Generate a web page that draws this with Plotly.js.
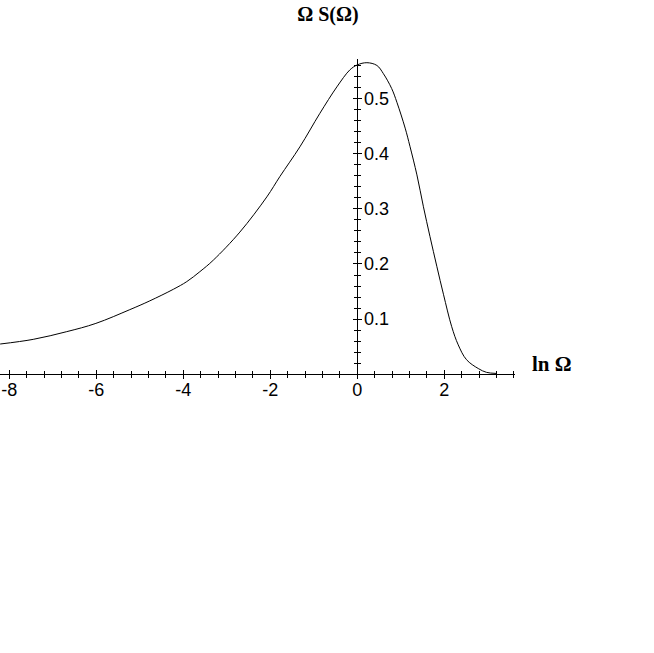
<!DOCTYPE html>
<html>
<head>
<meta charset="utf-8">
<script src="https://cdn.plot.ly/plotly-3.0.1.min.js"></script>
<style>html,body{margin:0;padding:0;background:#fff;}#chart{width:654px;height:653px;}</style>
</head>
<body>
<div id="chart"></div>
<script>
// ln Ω values and Ω S(Ω) values
const lnOmega = [-8.21, -7.45, -6.68, -6.01, -5.23, -4.77, -4.23, -3.92, -3.62, -3.31,
  -2.70, -2.08, -1.78, -1.32, -0.86, -0.47, -0.17, 0.00, 0.22, 0.45,
  0.60, 0.79, 0.91, 1.10, 1.21, 1.37, 1.52, 1.67, 1.83, 1.98,
  2.17, 2.32, 2.51, 2.78, 2.97, 3.20];
const omegaS = [0.0545, 0.063, 0.077, 0.092, 0.117, 0.133, 0.154, 0.168, 0.186, 0.207,
  0.258, 0.322, 0.359, 0.413, 0.474, 0.522, 0.553, 0.562, 0.566, 0.561,
  0.546, 0.519, 0.494, 0.447, 0.414, 0.362, 0.304, 0.250, 0.195, 0.145,
  0.086, 0.053, 0.026, 0.010, 0.003, 0.001];

const xTickVals = [-8, -6, -4, -2, 0, 2];
const xTickText = ["-8", "-6", "-4", "-2", "0", "2"];
const yTickVals = [0.1, 0.2, 0.3, 0.4, 0.5];
const yTickText = ["0.1", "0.2", "0.3", "0.4", "0.5"];

const xRange = [-8.214, 3.625];
const yRange = [0, 0.5727];
const yAxisPos = (0 - xRange[0]) / (xRange[1] - xRange[0]);

const tickFont = {family: "Liberation Sans, Arial, sans-serif", size: 18, color: "#000"};
const serif = "Liberation Serif, Times New Roman, serif";

const traces = [
  {x: lnOmega, y: omegaS, mode: "lines", line: {color: "#000", width: 1, shape: "spline", smoothing: 1},
   xaxis: "x", yaxis: "y", showlegend: false, hoverinfo: "skip"},
  {x: lnOmega, y: omegaS, mode: "lines", line: {color: "rgba(0,0,0,0)", width: 0},
   xaxis: "x2", yaxis: "y2", showlegend: false, hoverinfo: "skip"}
];

const axCommon = {showgrid: false, zeroline: false, showline: true, linecolor: "#000", linewidth: 1, tickcolor: "#000", tickwidth: 1, fixedrange: true};

const layout = {
  width: 654, height: 653,
  paper_bgcolor: "#fff", plot_bgcolor: "#fff",
  margin: {l: 0, r: 139, t: 59, b: 279},
  showlegend: false,
  title: {text: "<b>Ω S(Ω)</b>", font: {family: serif, size: 20, color: "#000"},
    xref: "container", x: 0.5015, xanchor: "center", yref: "container", y: 0.9786, yanchor: "middle"},
  xaxis: Object.assign({}, axCommon, {range: xRange, anchor: "y", side: "bottom",
    tickmode: "array", tickvals: xTickVals, ticktext: xTickText, ticks: "outside", ticklen: 4,
    tickfont: tickFont, ticklabelstandoff: -5,
    minor: {tickmode: "linear", tick0: 0, dtick: 0.4, ticks: "outside", ticklen: 3, tickcolor: "#000"}}),
  xaxis2: Object.assign({}, axCommon, {range: xRange, anchor: "y", side: "bottom", overlaying: "x",
    tickmode: "array", tickvals: xTickVals, ticks: "inside", ticklen: 4, showticklabels: false,
    minor: {tickmode: "linear", tick0: 0, dtick: 0.4, ticks: "inside", ticklen: 3, tickcolor: "#000"}}),
  yaxis: Object.assign({}, axCommon, {range: yRange, anchor: "free", position: yAxisPos, side: "right",
    tickmode: "array", tickvals: yTickVals, ticktext: yTickText, ticks: "outside", ticklen: 4,
    tickfont: tickFont, ticklabelstandoff: -2,
    minor: {tickmode: "linear", tick0: 0, dtick: 0.02, ticks: "outside", ticklen: 3, tickcolor: "#000"}}),
  yaxis2: Object.assign({}, axCommon, {range: yRange, anchor: "free", position: yAxisPos, side: "right", overlaying: "y",
    tickmode: "array", tickvals: yTickVals, ticks: "inside", ticklen: 4, showticklabels: false,
    minor: {tickmode: "linear", tick0: 0, dtick: 0.02, ticks: "inside", ticklen: 3, tickcolor: "#000"}}),
  annotations: [
    {text: "<b>ln Ω</b>", xref: "paper", yref: "paper", x: 1.072, y: 0.032, xanchor: "center", yanchor: "middle",
     showarrow: false, font: {family: serif, size: 21, color: "#000"}}
  ]
};

Plotly.newPlot("chart", traces, layout, {staticPlot: true, displayModeBar: false});
</script>
</body>
</html>
